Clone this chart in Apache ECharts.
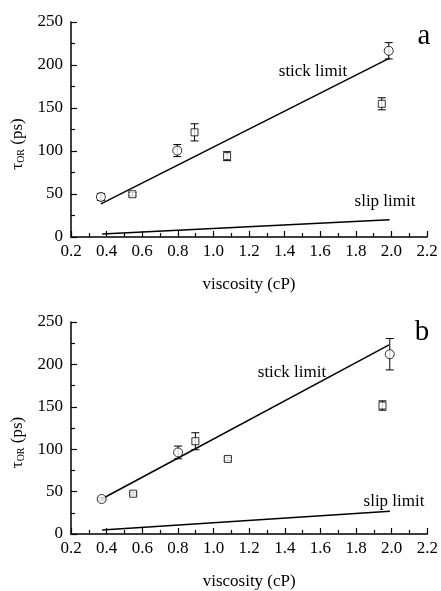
<!DOCTYPE html>
<html>
<head>
<meta charset="utf-8">
<script src="https://cdn.jsdelivr.net/npm/echarts@6/dist/echarts.min.js"></script>
<style>
  html, body { margin: 0; padding: 0; background: #fff; }
  #main { width: 441px; height: 591px; }
</style>
</head>
<body>
<div id="main"></div>
<script>
// panel a
var aCircleX = [0.368, 0.797, 1.985];
var aCircleY = [46.6, 100.5, 216.5];
var aCircleErr = [4, 7, 9.5];
var aSquareX = [0.545, 0.894, 1.077, 1.946];
var aSquareY = [49.7, 121.7, 94, 154.9];
var aSquareErr = [2, 10, 5.2, 7];
var aStick = [[0.368, 38.5], [1.99, 208]];
var aSlip = [[0.375, 3.5], [1.99, 20]];

// panel b
var bCircleX = [0.372, 0.801, 1.989];
var bCircleY = [41.3, 96.2, 212];
var bCircleErr = [1.5, 7.5, 18.5];
var bSquareX = [0.549, 0.898, 1.08, 1.948];
var bSquareY = [47.5, 109.4, 88.5, 151.5];
var bSquareErr = [1.5, 10, 2, 5.5];
var bStick = [[0.372, 41.3], [1.985, 223]];
var bSlip = [[0.375, 4.6], [1.99, 26.7]];

var FONT = 'Liberation Serif';

function pts(xs, ys) {
  return xs.map(function (x, i) { return [x, ys[i]]; });
}
function errs(xs, ys, es) {
  return xs.map(function (x, i) { return [x, ys[i], es[i]]; });
}

function errBar(params, api) {
  var x = api.value(0), y = api.value(1), e = api.value(2);
  var hi = api.coord([x, y + e]);
  var lo = api.coord([x, y - e]);
  var w = 4;
  var st = { stroke: '#000', lineWidth: 1 };
  return {
    type: 'group',
    children: [
      { type: 'line', shape: { x1: hi[0], y1: hi[1], x2: lo[0], y2: lo[1] }, style: st },
      { type: 'line', shape: { x1: hi[0] - w, y1: hi[1], x2: hi[0] + w, y2: hi[1] }, style: st },
      { type: 'line', shape: { x1: lo[0] - w, y1: lo[1], x2: lo[0] + w, y2: lo[1] }, style: st }
    ]
  };
}

function xAx(i) {
  return {
    gridIndex: i, type: 'value', min: 0.2, max: 2.2, interval: 0.2,
    name: 'viscosity (cP)', nameLocation: 'middle', nameGap: 39,
    nameTextStyle: { fontFamily: FONT, fontSize: 17, color: '#000' },
    axisLine: { lineStyle: { color: '#000', width: 1.5 } },
    axisTick: { inside: true, length: 6, lineStyle: { color: '#000', width: 1.2 } },
    minorTick: { show: true, splitNumber: 2, length: 4, lineStyle: { color: '#000', width: 1.2 } },
    axisLabel: { fontFamily: FONT, fontSize: 17, color: '#000', margin: 6,
      formatter: function (v) { return v.toFixed(1); } },
    splitLine: { show: false }
  };
}
function yAx(i) {
  return {
    gridIndex: i, type: 'value', min: 0, max: 250, interval: 50,
    name: '{t|τ}{s|OR}{t| (ps)}', nameLocation: 'middle', nameGap: 44, nameRotate: 90,
    nameTextStyle: {
      fontFamily: FONT, color: '#000', padding: [0, 29, 0, 0],
      rich: {
        t: { fontFamily: FONT, fontSize: 17, color: '#000' },
        s: { fontFamily: FONT, fontSize: 10, color: '#000', padding: [9, 0, 0, 0] }
      }
    },
    axisLine: { lineStyle: { color: '#000', width: 1.5 } },
    axisTick: { inside: true, length: 6, lineStyle: { color: '#000', width: 1.2 } },
    minorTick: { show: true, splitNumber: 2, length: 4, lineStyle: { color: '#000', width: 1.2 } },
    axisLabel: { fontFamily: FONT, fontSize: 17, color: '#000', margin: 8 },
    splitLine: { show: false }
  };
}

function panelSeries(i, cx, cy, ce, sx, sy, se, stick, slip) {
  var lineStyle = { color: '#000', width: 1.5 };
  return [
    { type: 'line', xAxisIndex: i, yAxisIndex: i, data: stick, showSymbol: false,
      lineStyle: lineStyle, silent: true },
    { type: 'line', xAxisIndex: i, yAxisIndex: i, data: slip, showSymbol: false,
      lineStyle: lineStyle, silent: true },
    { type: 'custom', xAxisIndex: i, yAxisIndex: i, renderItem: errBar,
      data: errs(cx, cy, ce), z: 3 },
    { type: 'custom', xAxisIndex: i, yAxisIndex: i, renderItem: errBar,
      data: errs(sx, sy, se), z: 3 },
    { type: 'scatter', xAxisIndex: i, yAxisIndex: i, data: pts(cx, cy), symbol: 'circle',
      symbolSize: 9, itemStyle: { color: '#fff', borderColor: '#000', borderWidth: 1 }, z: 4 },
    { type: 'scatter', xAxisIndex: i, yAxisIndex: i, data: pts(sx, sy), symbol: 'rect',
      symbolSize: 7, itemStyle: { color: '#fff', borderColor: '#000', borderWidth: 1 }, z: 4 }
  ];
}

function label(text, x, y, size) {
  return { type: 'text', x: x, y: y,
    style: { text: text, fontFamily: FONT, fontSize: size, fill: '#000',
      textAlign: 'center', textVerticalAlign: 'middle' } };
}

var chart = echarts.init(document.getElementById('main'));
chart.setOption({
  animation: false,
  backgroundColor: '#fff',
  grid: [
    { left: 71, top: 22, width: 356, height: 215 },
    { left: 71, top: 322, width: 357, height: 215 }
  ],
  xAxis: [xAx(0), xAx(1)],
  yAxis: [yAx(0), yAx(1)],
  series: panelSeries(0, aCircleX, aCircleY, aCircleErr, aSquareX, aSquareY, aSquareErr, aStick, aSlip)
    .concat(panelSeries(1, bCircleX, bCircleY, bCircleErr, bSquareX, bSquareY, bSquareErr, bStick, bSlip)),
  graphic: [
    label('stick limit', 313, 72, 17),
    label('slip limit', 385, 202, 17),
    label('a', 424, 36, 29),
    label('stick limit', 292, 373, 17),
    label('slip limit', 394, 502, 17),
    label('b', 422, 332, 29)
  ]
});
</script>
</body>
</html>
